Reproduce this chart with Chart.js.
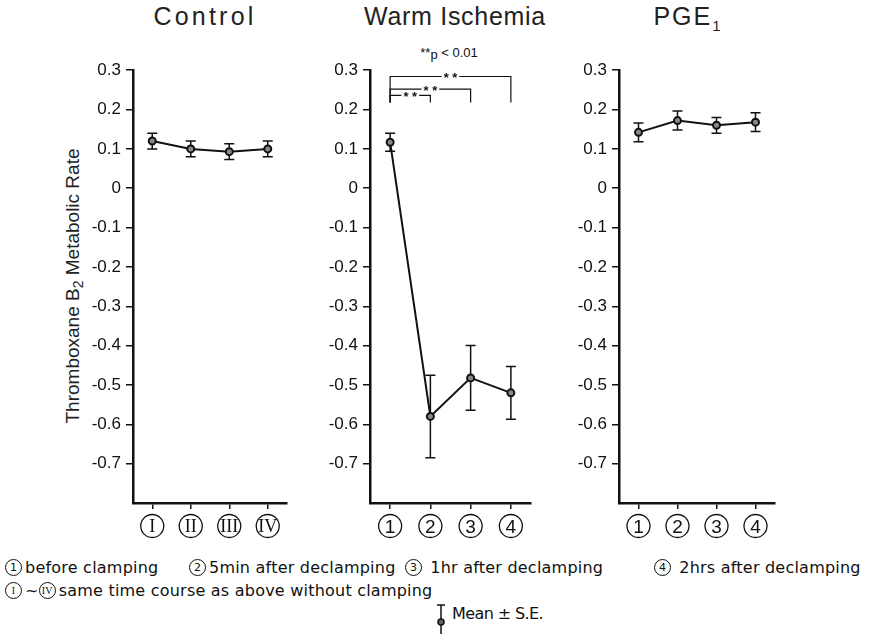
<!DOCTYPE html>
<html>
<head>
<meta charset="utf-8">
<script src="https://cdn.jsdelivr.net/npm/chart.js@4.4.1/dist/chart.umd.min.js"></script>
<style>
body{margin:0;background:#fff;width:871px;height:637px;position:relative;overflow:hidden;font-family:"Liberation Sans",Arial,sans-serif;color:#111}
canvas{position:absolute}
.ttl{position:absolute;top:2px;font-size:25px;transform:translateX(-50%);white-space:nowrap;color:#222}
.ytitle{position:absolute;left:74px;top:286px;font-size:19px;white-space:nowrap;transform:translate(-50%,-50%) rotate(-90deg);color:#222}
.note{position:absolute;left:5px;font-family:"DejaVu Sans",sans-serif;font-size:16px;line-height:20px;white-space:nowrap;color:#111}
.rc{display:inline-block;box-sizing:border-box;border:1.3px solid #111;border-radius:50%;width:17px;height:17px;line-height:15px;text-align:center;font-size:11px;vertical-align:2px;letter-spacing:0;margin-right:3px}
.rr{font-family:"Liberation Serif",serif;font-size:10px}
.pval{position:absolute;left:449px;top:45px;transform:translateX(-50%);font-size:13px;white-space:nowrap;color:#111}
</style>
</head>
<body>
<div class="ttl" style="left:205px;letter-spacing:3.2px">Control</div>
<div class="ttl" style="left:455px;letter-spacing:0.7px">Warm Ischemia</div>
<div class="ttl" style="left:688px;letter-spacing:2px">PGE<sub style="font-size:15px">1</sub></div>
<div class="ytitle">Thromboxane B<sub style="font-size:14px">2</sub> Metabolic Rate</div>
<div class="pval">**<span style="vertical-align:-2px;color:#111">p</span> &lt; 0.01</div>

<canvas id="c1" width="213" height="495" style="left:80px;top:55px"></canvas>
<canvas id="c2" width="220" height="495" style="left:317px;top:55px"></canvas>
<canvas id="c3" width="215" height="495" style="left:566px;top:55px"></canvas>

<div class="note" style="top:558px;left:5px"><span class="rc">1</span>before clamping</div>
<div class="note" style="top:558px;left:189px"><span class="rc">2</span>5min after declamping</div>
<div class="note" style="top:558px;left:405px"><span class="rc">3</span> 1hr after declamping</div>
<div class="note" style="top:558px;left:654px"><span class="rc">4</span> 2hrs after declamping</div>
<div class="note" id="n2" style="top:581px"><span class="rc rr">I</span>~<span class="rc rr">IV</span>same time course as above without clamping</div>
<svg style="position:absolute;left:434px;top:603px" width="14" height="32">
  <line x1="7" y1="2" x2="7" y2="31" stroke="#111" stroke-width="1.5"/>
  <line x1="3" y1="2" x2="11" y2="2" stroke="#111" stroke-width="1.5"/>
  <circle cx="7" cy="19" r="3" fill="#666" stroke="#111" stroke-width="1.5"/>
</svg>
<div class="note" id="n3" style="left:452px;top:604px">Mean ± S.E.</div>

<script>
// x categories
var romanLabels = ["I", "II", "III", "IV"];
var timeLabels = ["1", "2", "3", "4"];

// y axis
var yMin = -0.8;
var yMax = 0.3;
var yStep = 0.1;

// Control
var controlMean = [0.12, 0.10, 0.093, 0.10];
var controlSE = [0.02, 0.02, 0.02, 0.02];

// Warm Ischemia
var warmMean = [0.117, -0.58, -0.482, -0.52];
var warmSE = [0.023, 0.105, 0.082, 0.067];

// PGE1
var pgeMean = [0.142, 0.172, 0.16, 0.168];
var pgeSE = [0.024, 0.024, 0.02, 0.024];

// significance brackets (Warm Ischemia)
var sigFrom = [0, 0, 0];
var sigTo = [1, 2, 3];
var sigLevel = [0.236, 0.252, 0.284];
var sigBottom = 0.218;
var sigText = "* *";

var ink = "#111";

// footnote letter spacing: second line is about 428px wide in the figure
(function() {
  var n2 = document.getElementById("n2");
  var ls = (428 - n2.getBoundingClientRect().width) / n2.textContent.length;
  document.querySelectorAll(".note").forEach(function(el) {
    el.style.letterSpacing = ls.toFixed(2) + "px";
  });
  document.getElementById("n3").style.letterSpacing = "-0.6px";
})();

var errorBars = {
  id: "errorBars",
  beforeDatasetsDraw: function(chart) {
    var ctx = chart.ctx, ys = chart.scales.y;
    chart.data.datasets.forEach(function(ds, di) {
      var meta = chart.getDatasetMeta(di);
      ctx.save();
      ctx.strokeStyle = ink;
      ctx.lineWidth = 1.5;
      meta.data.forEach(function(pt, i) {
        var top = ys.getPixelForValue(ds.data[i] + ds.se[i]);
        var bot = ys.getPixelForValue(ds.data[i] - ds.se[i]);
        ctx.beginPath();
        ctx.moveTo(pt.x, top); ctx.lineTo(pt.x, bot);
        ctx.moveTo(pt.x - 5, top); ctx.lineTo(pt.x + 5, top);
        ctx.moveTo(pt.x - 5, bot); ctx.lineTo(pt.x + 5, bot);
        ctx.stroke();
      });
      ctx.restore();
    });
  }
};

var circledTicks = {
  id: "circledTicks",
  afterDraw: function(chart) {
    var ctx = chart.ctx, xs = chart.scales.x;
    ctx.save();
    ctx.strokeStyle = ink;
    ctx.lineWidth = 1.3;
    xs.ticks.forEach(function(t, i) {
      var x = xs.getPixelForTick(i);
      ctx.beginPath();
      ctx.arc(x, xs.top + 23, 11.5, 0, Math.PI * 2);
      ctx.stroke();
    });
    ctx.restore();
  }
};

var sigBrackets = {
  id: "sigBrackets",
  afterDraw: function(chart) {
    var ctx = chart.ctx, xs = chart.scales.x, ys = chart.scales.y;
    ctx.save();
    ctx.strokeStyle = ink;
    ctx.fillStyle = ink;
    ctx.lineWidth = 1.2;
    ctx.font = "bold 13px 'Liberation Sans'";
    ctx.textAlign = "center";
    ctx.textBaseline = "middle";
    var yb = ys.getPixelForValue(sigBottom);
    for (var i = 0; i < sigFrom.length; i++) {
      var x1 = xs.getPixelForValue(sigFrom[i]);
      var x2 = xs.getPixelForValue(sigTo[i]);
      var y = ys.getPixelForValue(sigLevel[i]);
      ctx.beginPath();
      ctx.moveTo(x1, yb); ctx.lineTo(x1, y); ctx.lineTo(x2, y); ctx.lineTo(x2, yb);
      ctx.stroke();
      var mx = (x1 + x2) / 2;
      var w = ctx.measureText(sigText).width + 4;
      ctx.fillStyle = "#fff";
      ctx.fillRect(mx - w / 2, y - 3, w, 6);
      ctx.fillStyle = ink;
      ctx.fillText(sigText, mx, y + 2);
    }
    ctx.restore();
  }
};

function make_panel(id, labels, mean, se, padTop, extra) {
  var ctx = document.getElementById(id).getContext("2d");
  var plugins = [errorBars, circledTicks];
  if (extra) plugins.push(extra);
  var roman = labels === romanLabels;
  return new Chart(ctx, {
    type: "line",
    data: {
      labels: labels,
      datasets: [{
        data: mean,
        se: se,
        borderColor: ink,
        borderWidth: 2,
        pointRadius: 3.5,
        pointBorderWidth: 2,
        pointBackgroundColor: "#888",
        pointBorderColor: ink,
        tension: 0,
        fill: false
      }]
    },
    options: {
      responsive: false,
      animation: false,
      layout: { padding: { top: padTop, right: 6, left: 0, bottom: 0 } },
      plugins: { legend: { display: false }, tooltip: { enabled: false } },
      scales: {
        x: {
          offset: true,
          afterFit: function(s) { s.height = 47; },
          border: { display: true, color: ink, width: 2.5 },
          grid: { drawOnChartArea: false, drawTicks: true, tickLength: 6, color: ink, lineWidth: 1.5 },
          ticks: {
            padding: 7,
            color: ink,
            font: roman ? { family: "Liberation Serif", size: 18 } : { family: "Liberation Sans", size: 19 }
          }
        },
        y: {
          min: yMin,
          max: yMax,
          afterFit: function(s) { s.width = 53; },
          border: { display: true, color: ink, width: 2.5 },
          grid: {
            drawOnChartArea: false,
            drawTicks: true,
            tickLength: 7,
            lineWidth: 1.5,
            color: function(c) { return c.tick && c.tick.value < yMin + yStep / 2 ? "rgba(0,0,0,0)" : ink; }
          },
          ticks: {
            stepSize: yStep,
            padding: 5,
            color: ink,
            font: { family: "Liberation Sans", size: 17 },
            callback: function(v) {
              if (v < yMin + yStep / 2) return "";
              var r = Math.round(v * 10) / 10;
              return r === 0 ? "0" : r.toFixed(1);
            }
          }
        }
      }
    },
    plugins: plugins
  });
}

make_panel("c1", romanLabels, controlMean, controlSE, 12);
make_panel("c2", timeLabels, warmMean, warmSE, 14, sigBrackets);
make_panel("c3", timeLabels, pgeMean, pgeSE, 12);
</script>
</body>
</html>
